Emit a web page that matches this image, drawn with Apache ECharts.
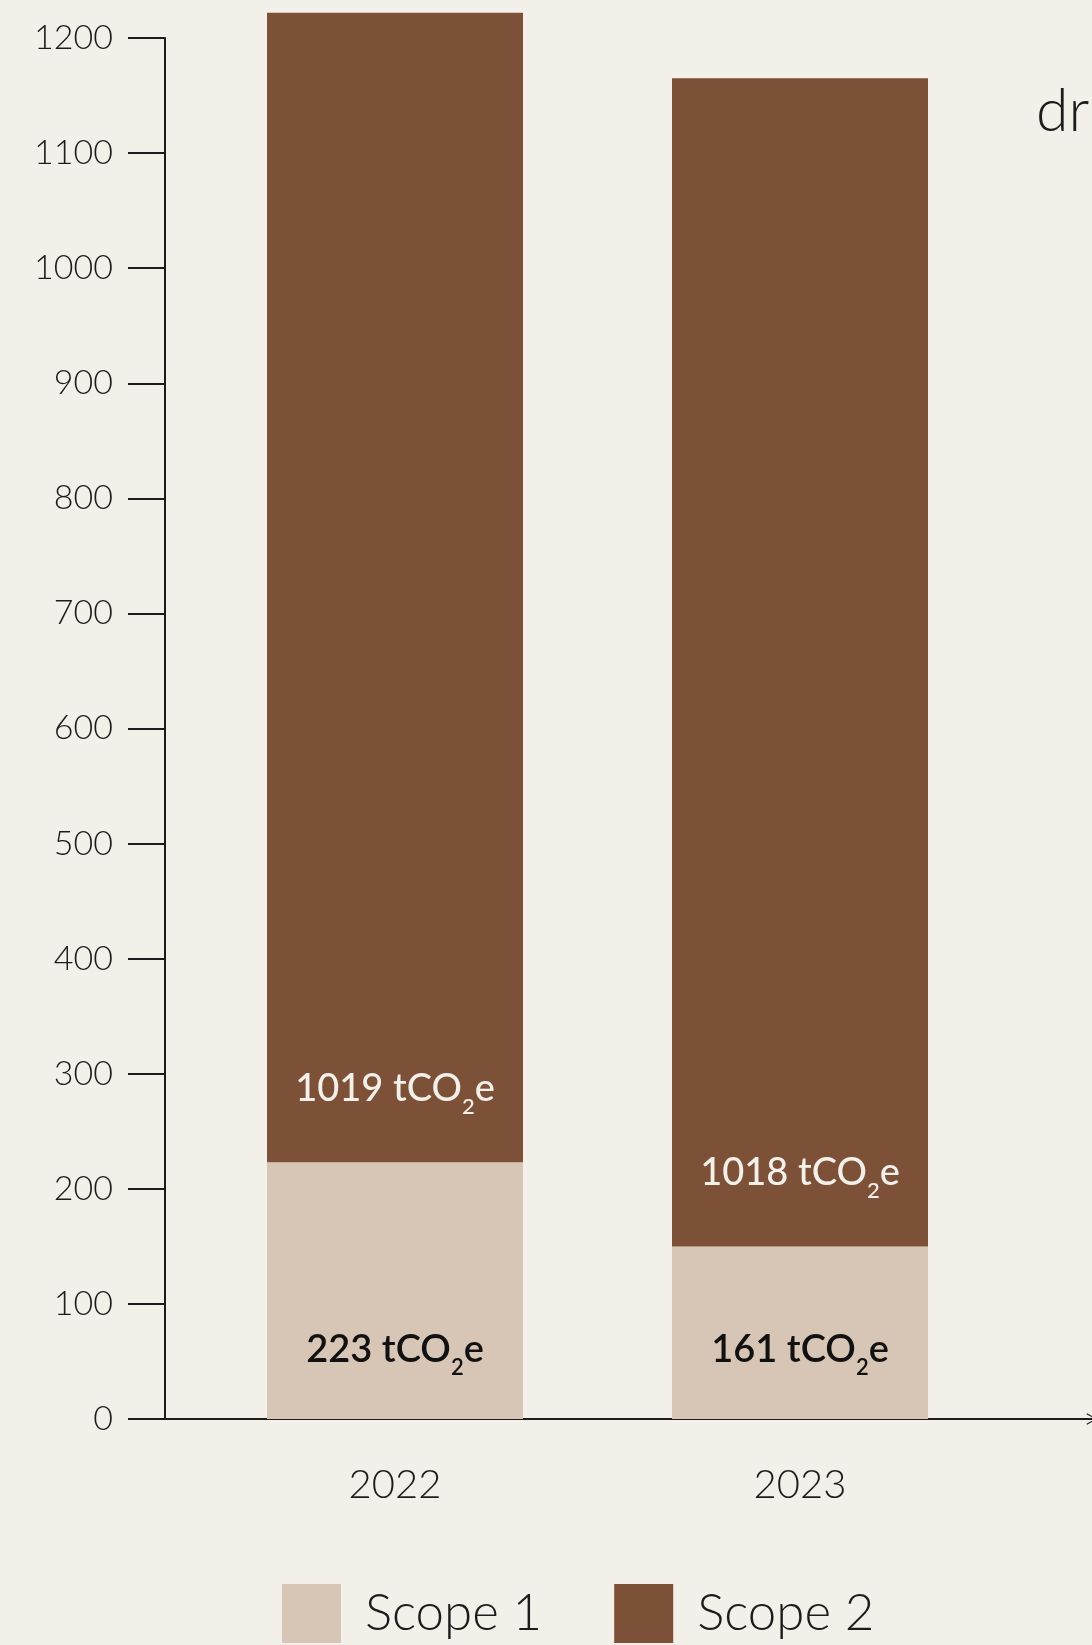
<!DOCTYPE html>
<html>
<head>
<meta charset="utf-8">
<script src="https://cdn.jsdelivr.net/npm/echarts@6/dist/echarts.min.js"></script>
<style>
  html, body { margin: 0; padding: 0; background: #f3efe9; }
  #chart { width: 1092px; height: 1645px; }
</style>
</head>
<body>
<div id="chart"></div>
<script>
// ---- data ----
const years = ['2022', '2023'];
const scope1Values = [223, 150];
const scope2Values = [999, 1015];
const scope1Labels = ['223', '161'];
const scope2Labels = ['1019', '1018'];
const seriesNames = ['Scope 1', 'Scope 2'];
const yMin = 0, yMax = 1200, yStep = 100;
const unitMain = 'tCO', unitSub = '2', unitEnd = 'e';
const sideText = 'dr';

const FONT = 'Lato, "Open Sans", sans-serif';
const C1 = '#d7c6b5', C2 = '#7d5038', INK = '#1c1c1c';

function richLabel(txt) {
  return '{m|' + txt + ' ' + unitMain + '}{s|' + unitSub + '}{m|' + unitEnd + '}';
}
function rich(color, weight) {
  return {
    m: { fontFamily: FONT, fontSize: 38, fontWeight: weight, color: color, lineHeight: 59 },
    s: { fontFamily: FONT, fontSize: 22, fontWeight: weight, color: color, lineHeight: 22, padding: [37, 0, 0, 0] }
  };
}

const chart = echarts.init(document.getElementById('chart'), null, { renderer: 'canvas' });
chart.setOption({
  backgroundColor: '#f3efe9',
  animation: false,
  grid: [
    { left: 165, right: 0, top: 38, bottom: 226, containLabel: false },
    { left: 192.5, width: 810, top: 38, bottom: 226, containLabel: false }
  ],
  legend: {
    left: 277, top: 1579,
    itemWidth: 59, itemHeight: 59, itemGap: 72,
    icon: 'rect',
    data: seriesNames,
    textStyle: { fontFamily: FONT, fontWeight: 300, fontSize: 51, color: INK, width: 173, padding: [0, 0, 0, 19] }
  },
  xAxis: [
    {
      gridIndex: 0, type: 'value', min: 0, max: 1,
      axisLine: { show: true, lineStyle: { color: INK, width: 2 },
        symbol: ['none', 'path://M0,18 L10,0 L20,18 L18,19 L10,4 L2,19 Z'], symbolSize: [22, 11] },
      axisTick: { show: false }, axisLabel: { show: false }, splitLine: { show: false }
    },
    {
      gridIndex: 1, type: 'category', data: years, boundaryGap: true,
      axisLine: { show: false }, axisTick: { show: false }, splitLine: { show: false },
      axisLabel: { show: true, margin: 46, fontFamily: FONT, fontWeight: 300, fontSize: 40, color: INK }
    }
  ],
  yAxis: [
    {
      gridIndex: 0, type: 'value', min: yMin, max: yMax, interval: yStep,
      axisLine: { show: true, lineStyle: { color: INK, width: 2 } },
      axisTick: { show: true, inside: false, length: 37, lineStyle: { color: INK, width: 2 } },
      axisLabel: { margin: 52, fontFamily: FONT, fontWeight: 300, fontSize: 34, color: INK,
        formatter: v => String(v) },
      splitLine: { show: false }
    },
    {
      gridIndex: 1, type: 'value', min: yMin, max: yMax, interval: yStep, show: false,
      splitLine: { show: false }
    }
  ],
  series: [
    {
      name: seriesNames[0], type: 'bar', stack: 'total', xAxisIndex: 1, yAxisIndex: 1,
      barWidth: 256, clip: false,
      itemStyle: { color: C1 },
      data: scope1Values,
      label: {
        show: true, position: 'insideBottom', distance: 40,
        formatter: p => richLabel(scope1Labels[p.dataIndex]),
        rich: rich('#111111', 600)
      }
    },
    {
      name: seriesNames[1], type: 'bar', stack: 'total', xAxisIndex: 1, yAxisIndex: 1,
      barWidth: 256, clip: false,
      itemStyle: { color: C2 },
      data: scope2Values,
      label: {
        show: true, position: 'insideBottom', distance: 44,
        formatter: p => richLabel(scope2Labels[p.dataIndex]),
        rich: rich('#f3efe9', 500)
      }
    }
  ],
  graphic: [
    { type: 'text', left: 1036, top: 82,
      style: { text: sideText, fontFamily: FONT, fontWeight: 300, fontSize: 59, fill: INK } }
  ]
});
</script>
</body>
</html>
